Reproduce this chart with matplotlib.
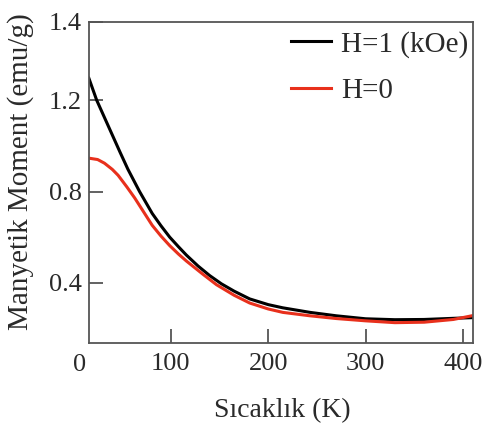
import matplotlib
matplotlib.use('Agg')
import matplotlib.pyplot as plt
import matplotlib.transforms as mtransforms

# sıcaklık (K) ve manyetik moment (emu/g) değerleri
sicaklik_h1 = [16, 24, 32, 40, 48, 56, 68, 81, 90, 99, 108, 116, 128, 140, 152, 165, 181, 200, 215, 243, 270, 300, 330, 360, 390, 410]
moment_h1 = [1.296, 1.20, 1.124, 1.048, 0.972, 0.898, 0.800, 0.704, 0.650, 0.600, 0.558, 0.522, 0.474, 0.432, 0.396, 0.364, 0.330, 0.305, 0.291, 0.271, 0.256, 0.243, 0.239, 0.240, 0.245, 0.248]

sicaklik_h0 = [16, 25, 32, 40, 46, 55, 63, 72, 81, 90, 99, 108, 116, 133, 147, 165, 181, 200, 215, 243, 270, 300, 330, 360, 390, 410]
moment_h0 = [0.946, 0.940, 0.924, 0.897, 0.871, 0.820, 0.772, 0.712, 0.652, 0.605, 0.563, 0.526, 0.496, 0.438, 0.392, 0.346, 0.312, 0.286, 0.271, 0.256, 0.244, 0.234, 0.226, 0.228, 0.240, 0.257]

etiketler = ['H=1 (kOe)', 'H=0']
x_ticks = [100, 200, 300, 400]
y_ticks = [0.4, 0.8, 1.2]

plt.rcParams['font.family'] = ['Liberation Serif', 'DejaVu Serif']
yazi_rengi = '#2a2a2a'

fig = plt.figure(figsize=(4.83, 4.28), dpi=100)
ax = fig.add_axes([0.184, 0.1986, 0.795, 0.75])

ax.plot(sicaklik_h1, moment_h1, color='black', lw=2.2, label=etiketler[0])
ax.plot(sicaklik_h0, moment_h0, color='#e8301c', lw=2.2, label=etiketler[1])

y_ust = 1.542
ax.set_xlim(16, 410)
ax.set_ylim(0.137, y_ust)

ax.set_xticks(x_ticks)
ax.set_xticklabels([str(t) for t in x_ticks])
ax.set_yticks(y_ticks + [y_ust])
ax.set_yticklabels(['0.4', '0.8', '1.2', '1.4'])

for s in ax.spines.values():
    s.set_color('#555555')
    s.set_linewidth(1.3)
ax.tick_params(direction='in', length=10, width=1.3, color='#555555',
               labelsize=19, labelcolor=yazi_rengi)
ax.tick_params(axis='y', pad=5)
ax.tick_params(axis='x', pad=7)

# sol alttaki "0" etiketi
tr = mtransforms.blended_transform_factory(ax.transAxes, ax.transAxes)
ax.text(-0.023, -0.067, '0', transform=tr, ha='center', va='center',
        fontsize=19, color=yazi_rengi)

fig.text(282 / 483, 1 - 411 / 428, 'Sıcaklık (K)', fontsize=20,
         ha='center', va='center', color=yazi_rengi)
fig.text(21 / 483, 1 - 172 / 428, 'Manyetik Moment (emu/g)', fontsize=21,
         ha='center', va='center', rotation=90, color=yazi_rengi)

leg = ax.legend(loc='upper right', frameon=False, fontsize=21,
                handlelength=1.37, handletextpad=0.35, labelspacing=0.68,
                borderaxespad=0.0, borderpad=0.2, bbox_to_anchor=(1.003, 0.99))
for t in leg.get_texts():
    t.set_color(yazi_rengi)

fig.savefig('out.png', dpi=100)
